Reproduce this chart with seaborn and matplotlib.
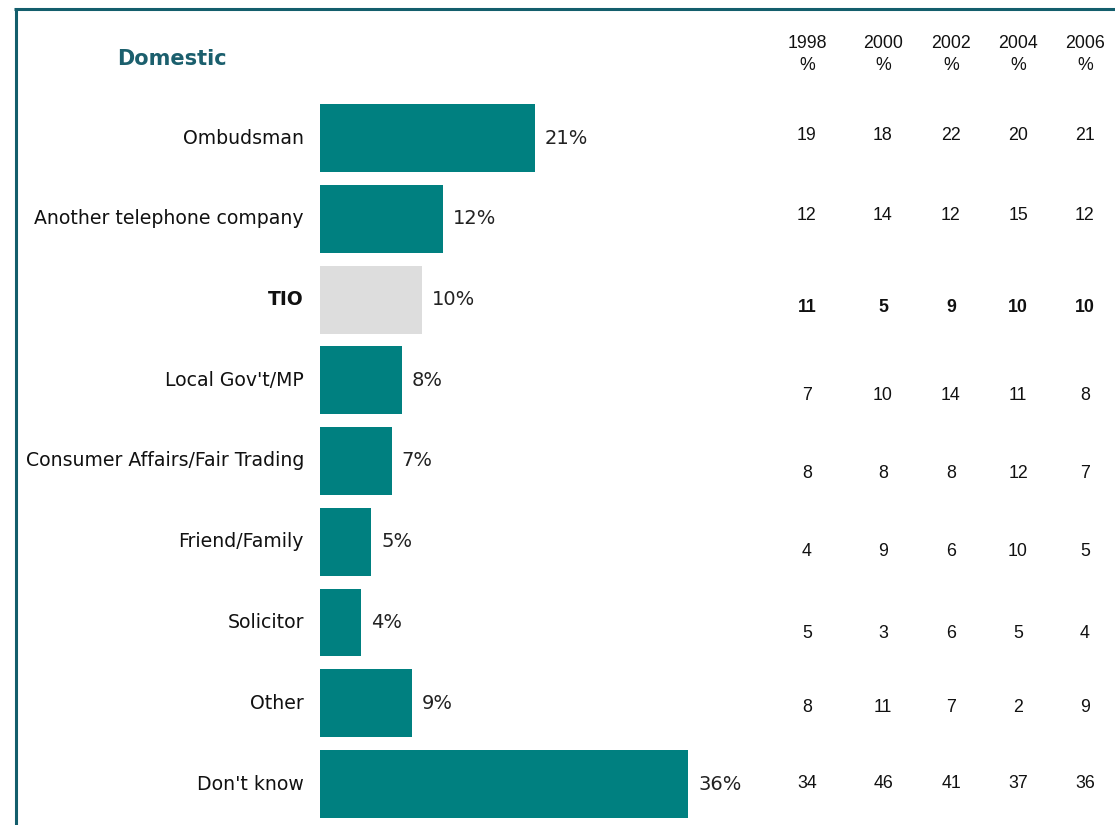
import matplotlib
matplotlib.use("Agg")
import matplotlib.pyplot as plt
import seaborn as sns
import pandas as pd

# Survey responses: where people would go with a phone complaint (Domestic, 2006)
categories = ["Ombudsman", "Another telephone company", "TIO", "Local Gov't/MP",
              "Consumer Affairs/Fair Trading", "Friend/Family", "Solicitor",
              "Other", "Don't know"]
values_2006 = [21, 12, 10, 8, 7, 5, 4, 9, 36]

# Trend table by survey year
years = ["1998", "2000", "2002", "2004", "2006"]
trend = {
    "1998": [19, 12, 11, 7, 8, 4, 5, 8, 34],
    "2000": [18, 14, 5, 10, 8, 9, 3, 11, 46],
    "2002": [22, 12, 9, 14, 8, 6, 6, 7, 41],
    "2004": [20, 15, 10, 11, 12, 10, 5, 2, 37],
    "2006": [21, 12, 10, 8, 7, 5, 4, 9, 36],
}
highlight = "TIO"

TEAL = "#008080"
GREY = "#dddddd"
FRAME = "#135e6c"
TITLE = "#1b5f6d"

W, H = 1115, 825
fig = plt.figure(figsize=(W / 100, H / 100), dpi=100)
fig.patch.set_facecolor("white")

# Axes spans from bar origin to the right edge, full height
px_per_unit = 10.23
x0 = 320
ax = fig.add_axes([x0 / W, 0, 1 - x0 / W, 1])
row_gap = 80.75
first_row = 138
df = pd.DataFrame({"category": categories, "value": values_2006})
palette = {c: (GREY if c == highlight else TEAL) for c in categories}
sns.barplot(data=df, x="value", y="category", hue="category", palette=palette,
            legend=False, width=68 / row_gap, saturation=1, ax=ax, orient="h")

ax.set_xlim(0, (W - x0) / px_per_unit)
ax.set_ylim((H - first_row) / row_gap, -first_row / row_gap)
ax.axis("off")

def px_to_x(px):
    return (px - x0) / px_per_unit

def py_to_y(py):
    return (py - first_row) / row_gap

# Category labels and value labels
for i, (cat, v) in enumerate(zip(categories, values_2006)):
    bold = cat == highlight
    ax.text(px_to_x(304), i, cat, ha="right", va="center", fontsize=13.6 if not bold else 13.5,
            fontweight="bold" if bold else "normal", family="DejaVu Sans",
            color="#111111", clip_on=False)
    ax.text(v + 10 / px_per_unit, i, f"{v}%", ha="left", va="center", fontsize=14,
            family="DejaVu Sans", color="#222222")

# Trend table
col_px = [807, 883, 951, 1018, 1085]
row_py = [135, 216, 307, 396, 473, 551, 633, 708, 784]
for cx, yr in zip(col_px, years):
    ax.text(px_to_x(cx), py_to_y(43), yr, ha="center", va="center", fontsize=12.8,
            family="Liberation Sans", color="#111111")
    ax.text(px_to_x(cx), py_to_y(65), "%", ha="center", va="center", fontsize=12.8,
            family="Liberation Sans", color="#111111")
    for i, (cat, ry) in enumerate(zip(categories, row_py)):
        bold = cat == highlight
        ax.text(px_to_x(cx), py_to_y(ry), str(trend[yr][i]), ha="center", va="center",
                fontsize=12.8, family="Liberation Sans",
                fontweight="bold" if bold else "normal", color="#111111")

# Title
fig.text(117 / W, 1 - 59 / H, "Domestic", ha="left", va="center", fontsize=15,
         fontweight="bold", family="DejaVu Sans", color=TITLE)

# Frame along top and left
fig.add_artist(plt.Line2D([15.5 / W, 15.5 / W], [0, 1 - 8.5 / H], transform=fig.transFigure,
                          color=FRAME, lw=2.2, solid_capstyle="butt"))
fig.add_artist(plt.Line2D([14.4 / W, 1], [1 - 8.5 / H, 1 - 8.5 / H], transform=fig.transFigure,
                          color=FRAME, lw=2.2, solid_capstyle="butt"))

fig.savefig("out.png", dpi=100, facecolor="white")
